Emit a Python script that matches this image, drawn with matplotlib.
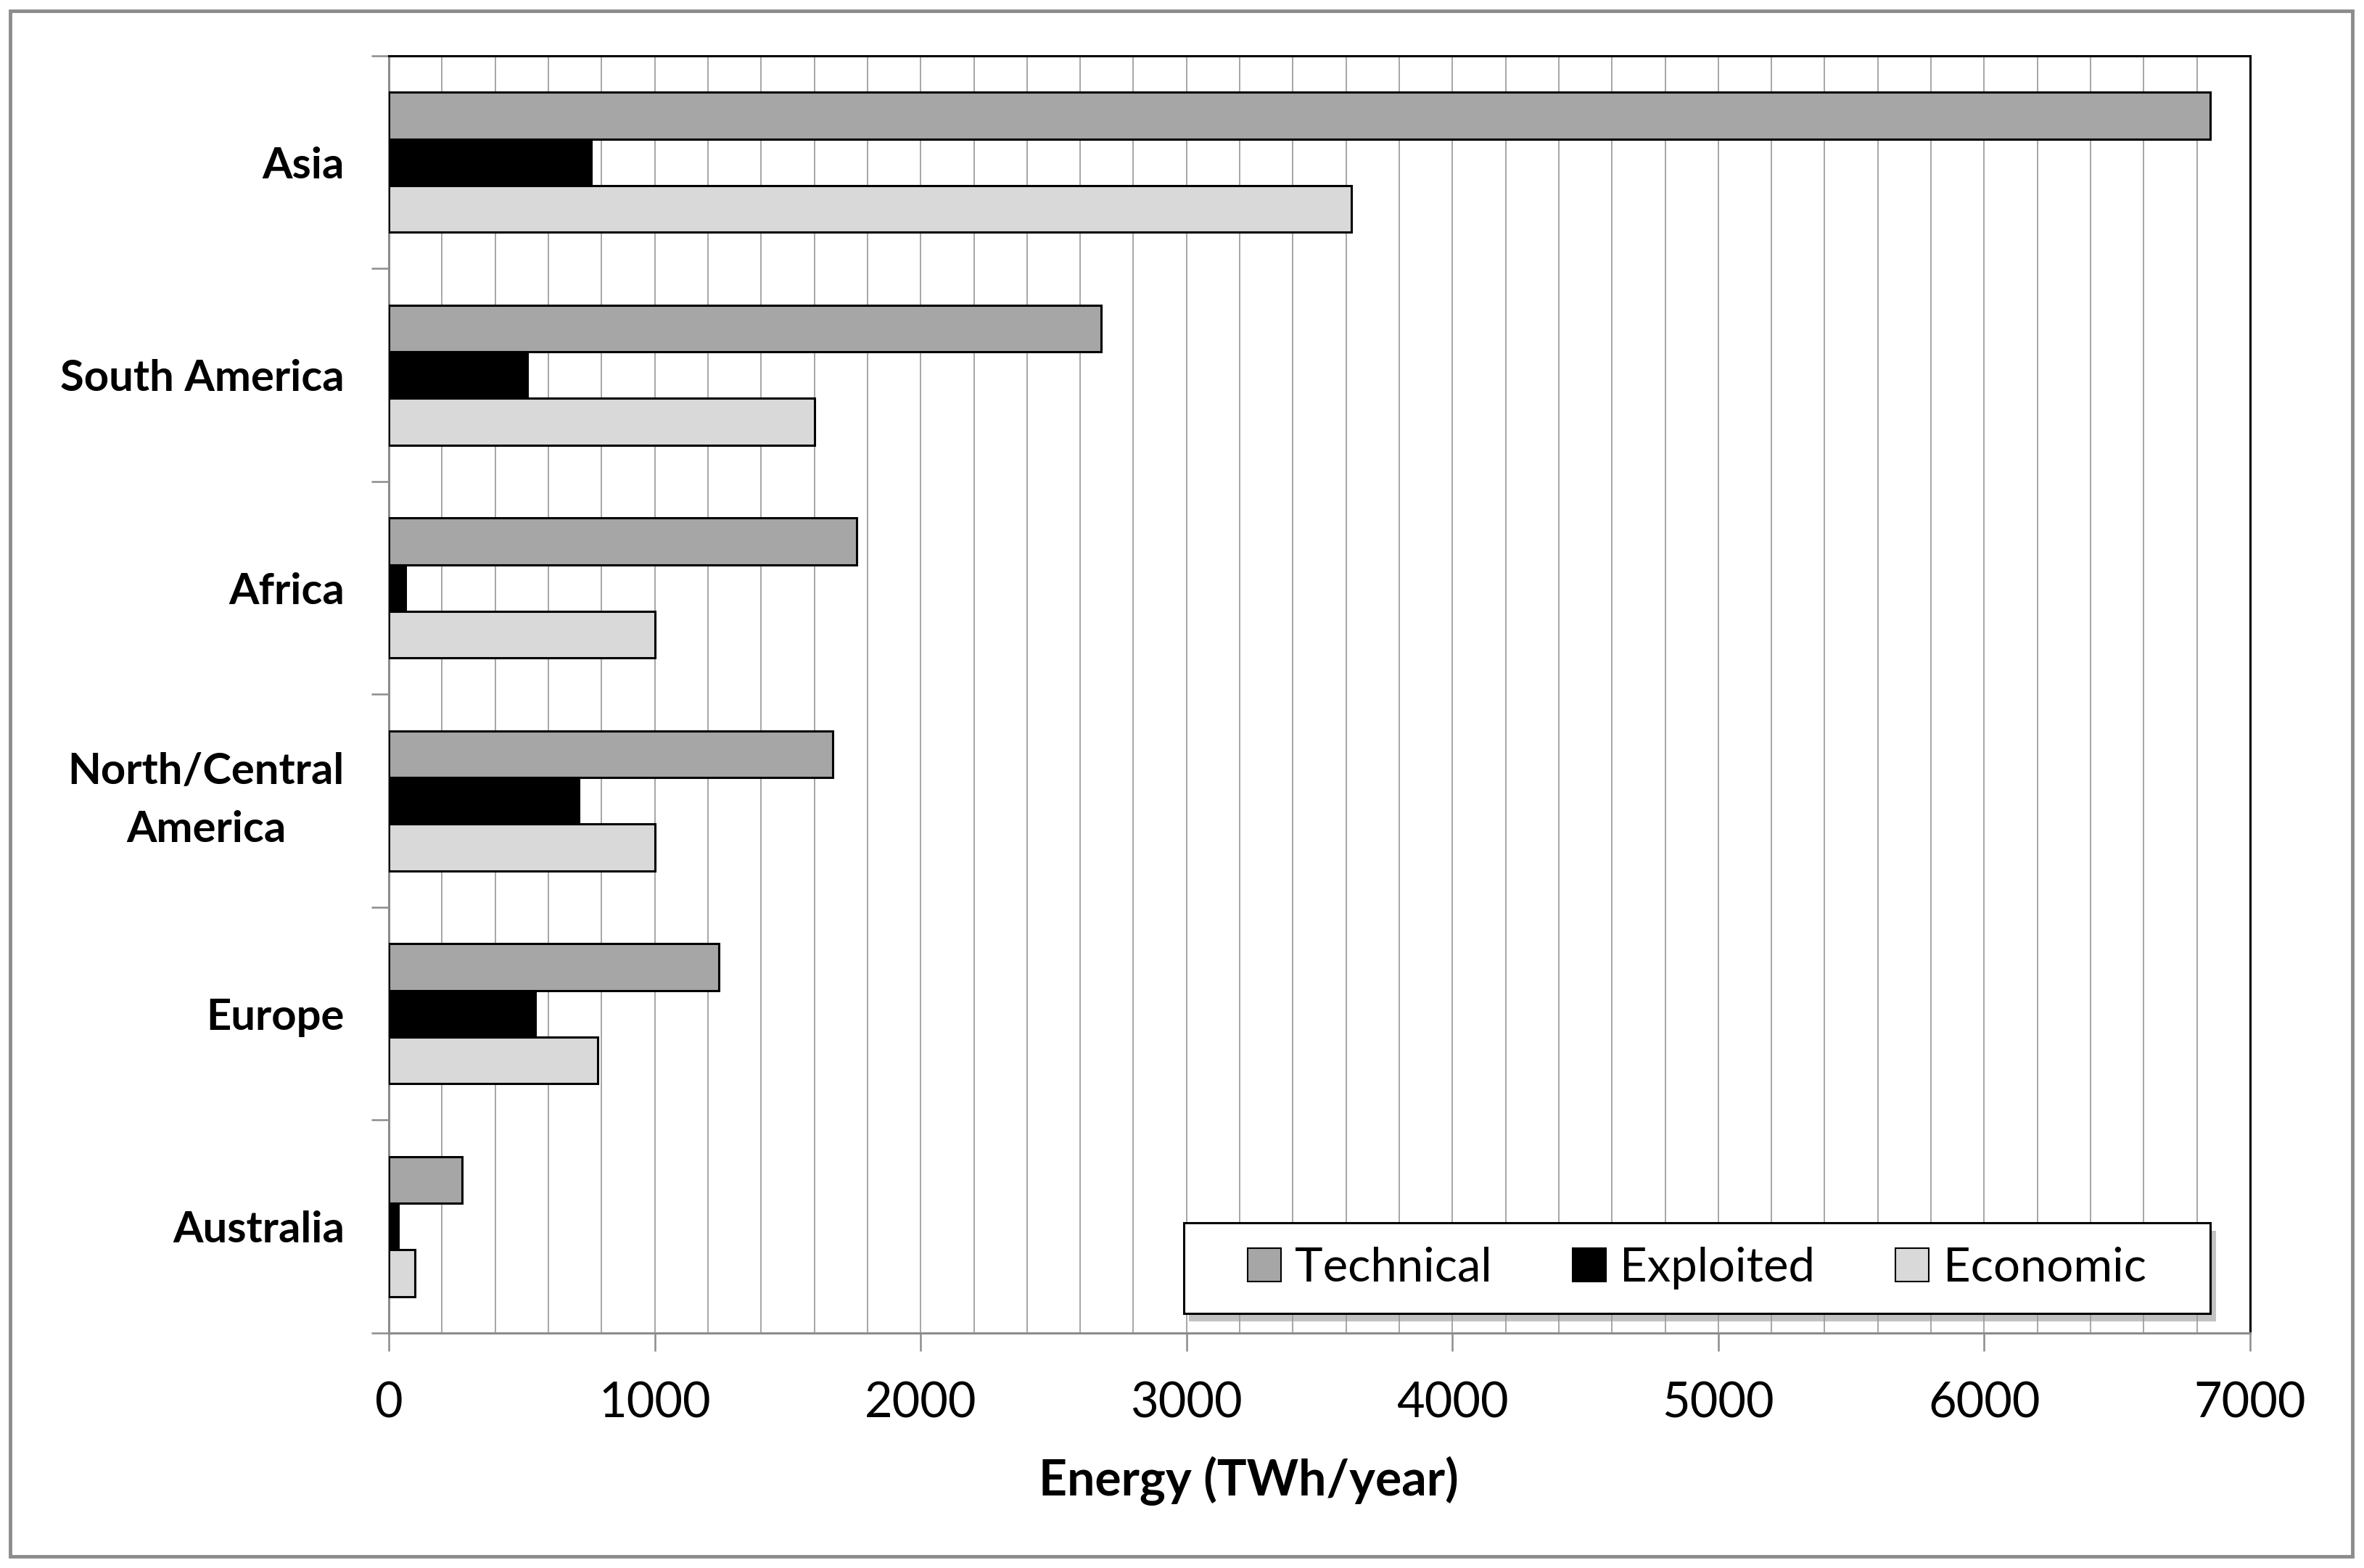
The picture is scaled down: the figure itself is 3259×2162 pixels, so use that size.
import numpy as np
import matplotlib.pyplot as plt
from matplotlib.patches import Rectangle

plt.rcParams['font.family'] = ['Lato', 'DejaVu Sans']

# regioner (topp til bunn) og verdier i TWh/år
regions = ["Asia", "South America", "Africa", "North/Central\nAmerica", "Europe", "Australia"]
technical = [6850, 2680, 1760, 1670, 1240, 275]
exploited = [760, 520, 62, 715, 552, 36]
economic = [3620, 1600, 1000, 1000, 785, 97]

series = ["Technical", "Exploited", "Economic"]
colors = ["#a6a6a6", "#000000", "#d9d9d9"]

fig = plt.figure(figsize=(32.59, 21.62), dpi=100)
ax = fig.add_axes([0.1645, 0.1499, 0.9518 - 0.1645, 0.9644 - 0.1499])

# ytre grå ramme
fig.patches.append(Rectangle((0.0043, 0.0074), 0.9908, 0.9857, transform=fig.transFigure,
                             fill=False, edgecolor="#8c8c8c", linewidth=3.5))

y = np.arange(len(regions))
h = 0.219
for i, (vals, c, name) in enumerate(zip([technical, exploited, economic], colors, series)):
    ax.barh(y + (i - 1) * h, vals, height=h, color=c, edgecolor="black",
            linewidth=2.2, label=name, zorder=3)

ax.set_xlim(0, 7000)
ax.set_ylim(len(regions) - 0.5, -0.5)

ax.set_xticks(np.arange(0, 7001, 1000))
ax.set_xticks(np.arange(0, 7001, 200), minor=True)
ax.grid(axis="x", which="both", color="#a6a6a6", linewidth=1.4, zorder=0)
ax.tick_params(axis="x", which="major", length=18, width=1.8, color="#8c8c8c",
               labelsize=48, pad=30)
ax.tick_params(axis="x", which="minor", length=0)

ax.set_yticks(y)
ax.set_yticklabels(regions, fontsize=43, fontweight="bold", multialignment="center",
                   linespacing=1.6)
for t in ax.get_yticklabels():
    if "\n" in t.get_text():
        t.set_verticalalignment("center")
ax.set_yticks(np.arange(-0.5, len(regions)), minor=True)
ax.tick_params(axis="y", which="major", length=0, pad=44)
ax.tick_params(axis="y", which="minor", length=17, width=1.8, color="#8c8c8c")

for s in ["top", "right"]:
    ax.spines[s].set_color("black")
    ax.spines[s].set_linewidth(2.2)
for s in ["left", "bottom"]:
    ax.spines[s].set_color("#8c8c8c")
    ax.spines[s].set_linewidth(2.2)

ax.set_xlabel("Energy (TWh/year)", fontsize=49, fontweight="bold", labelpad=30, x=0.462)

# legende med egen ramme og skygge
bx0, by0, bw, bh = 0.427, 0.0153, 0.5516, 0.071
ax.add_patch(Rectangle((bx0 + 0.003, by0 - 0.006), bw, bh, transform=ax.transAxes,
                       facecolor="#9a9a9a", edgecolor="none", alpha=0.6, zorder=6))
ax.add_patch(Rectangle((bx0, by0), bw, bh, transform=ax.transAxes,
                       facecolor="white", edgecolor="black", linewidth=2.2, zorder=7))
leg = ax.legend(loc="center", bbox_to_anchor=(bx0 + bw / 2, by0 + bh / 2),
                ncol=3, fontsize=47, handlelength=0.7, handleheight=0.7,
                handletextpad=0.3, columnspacing=1.7, frameon=False)
leg.set_zorder(8)
for p in leg.get_patches():
    p.set_linewidth(1.5)

fig.savefig("out.png", dpi=100)
